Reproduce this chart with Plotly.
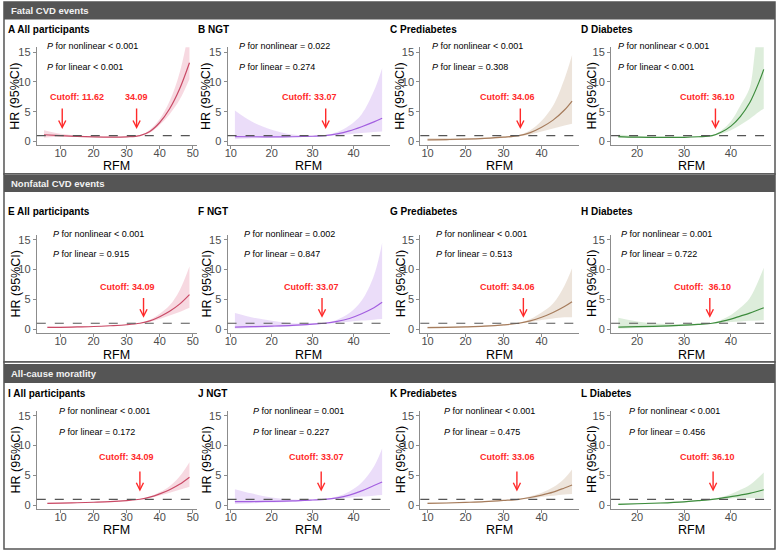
import plotly.graph_objects as go

W, H = 778, 552

# ---------------- data ----------------
# Fatal CVD events
rfm_A = [5, 10, 15, 20, 25, 30, 34, 37, 40, 43, 46, 49]
hr_A = [1.15, 1.0, 0.88, 0.8, 0.76, 0.8, 1.0, 1.7, 3.2, 5.5, 8.8, 13.2]
lo_A = [0.65, 0.8, 0.76, 0.72, 0.7, 0.74, 0.95, 1.5, 2.8, 4.6, 7.0, 10.5]
hi_A = [1.9, 1.3, 1.0, 0.9, 0.84, 0.87, 1.05, 2.0, 3.8, 6.8, 11.5, 19.0]

rfm_B = [11, 15, 20, 25, 30, 33, 36, 39, 42, 45, 47]
hr_B = [0.85, 0.82, 0.8, 0.82, 0.9, 1.0, 1.3, 1.8, 2.5, 3.3, 3.9]
lo_B = [0.4, 0.55, 0.65, 0.72, 0.82, 0.92, 1.05, 1.25, 1.45, 1.6, 1.7]
hi_B = [5.2, 3.4, 2.0, 1.2, 1.0, 1.08, 1.6, 2.7, 4.6, 8.5, 12.3]

rfm_C = [10, 15, 20, 25, 30, 34, 37, 40, 43, 46, 48]
hr_C = [0.3, 0.35, 0.42, 0.55, 0.75, 1.0, 1.5, 2.4, 3.6, 5.3, 6.8]
lo_C = [0.15, 0.2, 0.3, 0.42, 0.62, 0.9, 1.2, 1.7, 2.2, 2.7, 3.0]
hi_C = [0.6, 0.6, 0.6, 0.7, 0.9, 1.1, 1.9, 3.5, 6.0, 10.5, 14.5]

rfm_D = [16, 20, 25, 30, 33, 36, 38, 40, 42, 44, 46, 47]
hr_D = [0.85, 0.75, 0.7, 0.72, 0.82, 1.0, 1.6, 2.6, 4.2, 6.5, 10.0, 12.1]
lo_D = [0.6, 0.6, 0.6, 0.63, 0.72, 0.9, 1.3, 1.9, 2.8, 3.8, 5.0, 5.5]
hi_D = [1.2, 0.95, 0.82, 0.82, 0.92, 1.1, 1.9, 3.4, 6.0, 9.0, 18.0, 18.0]

# Nonfatal CVD events
rfm_E = [6, 10, 15, 20, 25, 30, 34, 37, 40, 43, 46, 49]
hr_E = [0.3, 0.32, 0.38, 0.45, 0.58, 0.75, 1.0, 1.4, 2.1, 3.0, 4.2, 5.8]
lo_E = [0.2, 0.24, 0.3, 0.38, 0.52, 0.7, 0.95, 1.25, 1.7, 2.3, 2.9, 3.6]
hi_E = [0.45, 0.42, 0.46, 0.52, 0.64, 0.8, 1.05, 1.6, 2.6, 4.0, 6.5, 10.5]

rfm_F = [11, 15, 20, 25, 30, 33, 36, 39, 42, 45, 47]
hr_F = [0.35, 0.42, 0.52, 0.65, 0.85, 1.0, 1.3, 1.8, 2.6, 3.6, 4.5]
lo_F = [0.1, 0.2, 0.33, 0.5, 0.75, 0.92, 1.05, 1.25, 1.45, 1.6, 1.7]
hi_F = [2.7, 2.0, 1.4, 1.0, 1.0, 1.08, 1.6, 2.7, 4.8, 9.0, 14.5]

rfm_G = [10, 15, 20, 25, 30, 34, 37, 40, 43, 46, 48]
hr_G = [0.25, 0.3, 0.38, 0.5, 0.72, 1.0, 1.4, 2.0, 2.8, 3.8, 4.6]
lo_G = [0.15, 0.2, 0.3, 0.42, 0.65, 0.92, 1.2, 1.55, 1.8, 2.0, 2.0]
hi_G = [0.45, 0.45, 0.48, 0.6, 0.8, 1.08, 1.7, 2.8, 4.3, 7.3, 10.2]

rfm_H = [16, 20, 25, 30, 33, 36, 38, 40, 42, 44, 47]
hr_H = [0.35, 0.42, 0.52, 0.68, 0.82, 1.0, 1.3, 1.7, 2.2, 2.7, 3.6]
lo_H = [0.1, 0.2, 0.35, 0.55, 0.72, 0.92, 1.05, 1.2, 1.3, 1.4, 1.5]
hi_H = [1.9, 1.3, 0.9, 0.85, 0.95, 1.1, 1.6, 2.4, 3.6, 5.2, 10.3]

# All-cause mortality
rfm_I = [6, 10, 15, 20, 25, 30, 34, 37, 40, 43, 46, 49]
hr_I = [0.3, 0.35, 0.42, 0.5, 0.6, 0.78, 1.0, 1.35, 1.9, 2.6, 3.5, 4.7]
lo_I = [0.2, 0.28, 0.36, 0.45, 0.56, 0.74, 0.96, 1.25, 1.65, 2.1, 2.6, 3.1]
hi_I = [0.42, 0.42, 0.48, 0.55, 0.65, 0.82, 1.04, 1.45, 2.2, 3.2, 4.8, 7.2]

rfm_J = [11, 15, 20, 25, 30, 33, 36, 39, 42, 45, 47]
hr_J = [0.6, 0.62, 0.65, 0.72, 0.88, 1.0, 1.25, 1.7, 2.4, 3.3, 3.9]
lo_J = [0.2, 0.32, 0.45, 0.6, 0.8, 0.93, 1.08, 1.25, 1.45, 1.6, 1.7]
hi_J = [2.7, 2.0, 1.3, 0.95, 0.98, 1.07, 1.45, 2.3, 3.8, 6.5, 9.5]

rfm_K = [10, 15, 20, 25, 30, 34, 37, 40, 43, 46, 48]
hr_K = [0.3, 0.38, 0.48, 0.6, 0.8, 1.0, 1.3, 1.7, 2.2, 2.9, 3.4]
lo_K = [0.2, 0.3, 0.4, 0.55, 0.75, 0.95, 1.15, 1.4, 1.6, 1.8, 1.9]
hi_K = [0.45, 0.48, 0.56, 0.66, 0.86, 1.06, 1.5, 2.1, 3.0, 4.5, 6.0]

rfm_L = [16, 20, 25, 30, 33, 36, 38, 40, 42, 44, 47]
hr_L = [0.15, 0.25, 0.38, 0.58, 0.78, 1.0, 1.2, 1.45, 1.7, 2.0, 2.6]
lo_L = [0.05, 0.15, 0.3, 0.5, 0.7, 0.92, 1.05, 1.15, 1.2, 1.2, 1.2]
hi_L = [0.35, 0.38, 0.48, 0.66, 0.86, 1.08, 1.4, 1.9, 2.6, 3.4, 5.5]

section_titles = ["Fatal CVD events", "Nonfatal CVD events", "All-cause moratlity"]
panel_titles = ["A All participants", "B NGT", "C Prediabetes", "D Diabetes",
                "E All participants", "F NGT", "G Prediabetes", "H Diabetes",
                "I All participants", "J NGT", "K Prediabetes", "L Diabetes"]
p_nonlinear = ["< 0.001", "= 0.022", "< 0.001", "< 0.001",
               "< 0.001", "= 0.002", "< 0.001", "= 0.001",
               "< 0.001", "= 0.001", "< 0.001", "< 0.001"]
p_linear = ["< 0.001", "= 0.274", "= 0.308", "< 0.001",
            "= 0.915", "= 0.847", "= 0.513", "= 0.722",
            "= 0.172", "= 0.227", "= 0.475", "= 0.456"]
# cutoff labels and the RFM where each arrow points
cutoff_labels = [["Cutoff: 11.62", "34.09"], ["Cutoff: 33.07"], ["Cutoff: 34.06"], ["Cutoff: 36.10"],
                 ["Cutoff: 34.09"], ["Cutoff: 33.07"], ["Cutoff: 34.06"], ["Cutoff:&nbsp; 36.10"],
                 ["Cutoff: 34.09"], ["Cutoff: 33.07"], ["Cutoff: 33.06"], ["Cutoff: 36.10"]]
cutoff_rfm = [[10.5, 33.0], [33.2], [34.4], [36.7],
              [35.1], [32.3], [35.2], [35.5],
              [34.0], [32.1], [33.5], [36.2]]

x_ticks = [[10, 20, 30, 40, 50], [10, 20, 30, 40], [10, 20, 30, 40], [20, 30, 40]]
y_ticks = [0, 5, 10, 15]

series = [
    (rfm_A, hr_A, lo_A, hi_A), (rfm_B, hr_B, lo_B, hi_B), (rfm_C, hr_C, lo_C, hi_C), (rfm_D, hr_D, lo_D, hi_D),
    (rfm_E, hr_E, lo_E, hi_E), (rfm_F, hr_F, lo_F, hi_F), (rfm_G, hr_G, lo_G, hi_G), (rfm_H, hr_H, lo_H, hi_H),
    (rfm_I, hr_I, lo_I, hi_I), (rfm_J, hr_J, lo_J, hi_J), (rfm_K, hr_K, lo_K, hi_K), (rfm_L, hr_L, lo_L, hi_L),
]

# ---------------- styling / layout ----------------
FONT = "Liberation Sans, Arial, Helvetica, sans-serif"
line_cols = ["#c94a66", "#a35fe0", "#a67c5c", "#3d8c3d"]
fill_cols = ["rgba(236,160,180,0.40)", "rgba(205,170,240,0.40)", "rgba(215,195,175,0.45)", "rgba(180,215,175,0.45)"]

col_px = [(34, 195), (226, 389), (420, 580), (612, 773)]
row_px = [(46.5, 145.0), (235.2, 333.6), (412.2, 510.6)]
x_ranges = [(2.8, 51.2), (9.2, 48.8), (8.1, 49.9), (14.45, 48.55)]
y_range = (-0.6, 15.8)

title_x = [7, 198, 392, 584]
ytitle_x = [12.7, 205, 400, 593]
xtitle_y = [166, 356, 532]
title_y = [29, 212, 395]
p_x = [[6.4, 12.5, 11.6, 16.3], [8.2, 13.8, 12.7, 17.1], [10.1, 15.8, 14.9, 18.6]]
p_ypx = [(45.7, 66.7), (234.3, 254.3), (412.7, 433.3)]
cut_text_y = [7.5, 7.05, 8.1]
arrow_top = [5.8, 5.5, 5.9]
arrow_tip = [2.1, 1.9, 2.3]
cut_text_x = [[15.1, 32.9], [29.3], [30.9], [35.1],
              [30.3], [29.8], [30.9], [33.9],
              [29.8], [31.0], [30.9], [35.1]]

sec_px = [(1, 174), (174, 363), (363, 551)]
hdr_px = [(1, 18.5), (175, 192), (365, 384)]
LSHIFT = -4  # compensates annotation box padding for left-anchored texts


def px(xp):
    return xp / W


def py(yp):
    return 1 - yp / H


fig = go.Figure()
layout = dict(width=W, height=H, margin=dict(l=0, r=0, t=0, b=0),
              paper_bgcolor="white", plot_bgcolor="white", showlegend=False,
              font=dict(family=FONT))
shapes = []
annotations = []

# sections
for s in range(3):
    y0, y1 = sec_px[s]
    shapes.append(dict(type="rect", xref="paper", yref="paper", x0=px(1), x1=px(777),
                       y0=py(y1), y1=py(y0), line=dict(color="#555555", width=1.5),
                       fillcolor="white", layer="below"))
    h0, h1 = hdr_px[s]
    shapes.append(dict(type="rect", xref="paper", yref="paper", x0=px(1), x1=px(777),
                       y0=py(h1), y1=py(h0), line=dict(width=0), fillcolor="#555555", layer="below"))
    annotations.append(dict(text="<b>" + section_titles[s] + "</b>", xref="paper", yref="paper",
                            x=px(10), y=py((h0 + h1) / 2), xanchor="left", yanchor="middle",
                            xshift=LSHIFT, showarrow=False,
                            font=dict(size=9.5, color="#f2f2f2", family=FONT)))

for i in range(12):
    r, c = divmod(i, 4)
    n = "" if i == 0 else str(i + 1)
    xa, ya = "x" + n, "y" + n
    rfm, hr, lo, hi = series[i]
    x0p, x1p = col_px[c]
    top, bot = row_px[r]
    layout["xaxis" + n] = dict(domain=[px(x0p), px(x1p)], anchor=ya, range=list(x_ranges[c]),
                               tickvals=x_ticks[c], showgrid=False, zeroline=False, showline=True,
                               linecolor="#8c8c8c", linewidth=1, ticks="outside", ticklen=3,
                               tickcolor="#8c8c8c", tickfont=dict(size=11, color="#4d4d4d", family=FONT),
                               ticklabelstandoff=-5, fixedrange=True)
    layout["yaxis" + n] = dict(domain=[py(bot), py(top)], anchor=xa, range=list(y_range),
                               tickvals=y_ticks, showgrid=False, zeroline=False, showline=True,
                               linecolor="#8c8c8c", linewidth=1, ticks="outside", ticklen=3,
                               tickcolor="#8c8c8c", tickfont=dict(size=11, color="#4d4d4d", family=FONT),
                               fixedrange=True)
    # ribbon
    fig.add_trace(go.Scatter(x=rfm, y=hi, mode="lines", line=dict(width=0, shape="spline"),
                             xaxis=xa, yaxis=ya, hoverinfo="skip"))
    fig.add_trace(go.Scatter(x=rfm, y=lo, mode="lines", line=dict(width=0, shape="spline"),
                             fill="tonexty", fillcolor=fill_cols[c], xaxis=xa, yaxis=ya, hoverinfo="skip"))
    fig.add_trace(go.Scatter(x=rfm, y=hr, mode="lines", line=dict(width=1.2, color=line_cols[c], shape="spline"),
                             xaxis=xa, yaxis=ya))
    # reference line HR = 1
    shapes.append(dict(type="line", xref=xa + " domain", yref=ya, x0=0, x1=1, y0=1, y1=1,
                       line=dict(color="#555555", width=1.2, dash="dash")))
    # panel title
    annotations.append(dict(text="<b>" + panel_titles[i] + "</b>", xref="paper", yref="paper",
                            x=px(title_x[c]), y=py(title_y[r]), xanchor="left", yanchor="middle",
                            xshift=LSHIFT, showarrow=False, font=dict(size=10, color="black", family=FONT)))
    # axis titles
    annotations.append(dict(text="HR (95%CI)", xref="paper", yref="paper", textangle=-90,
                            x=px(ytitle_x[c]), y=py((top + bot) / 2), xanchor="center", yanchor="middle",
                            showarrow=False, font=dict(size=12.5, color="black", family=FONT)))
    annotations.append(dict(text="RFM", xref="paper", yref="paper",
                            x=px((x0p + x1p) / 2), y=py(xtitle_y[r]), xanchor="center", yanchor="middle",
                            showarrow=False, font=dict(size=12.5, color="black", family=FONT)))
    # P values
    annotations.append(dict(text="<i>P</i> for nonlinear " + p_nonlinear[i].replace("<", "&lt;"),
                            xref=xa, yref="paper", x=p_x[r][c], y=py(p_ypx[r][0]), xanchor="left",
                            yanchor="middle", xshift=LSHIFT, showarrow=False,
                            font=dict(size=9, color="black", family=FONT)))
    annotations.append(dict(text="<i>P</i> for linear " + p_linear[i].replace("<", "&lt;"),
                            xref=xa, yref="paper", x=p_x[r][c], y=py(p_ypx[r][1]), xanchor="left",
                            yanchor="middle", xshift=LSHIFT, showarrow=False,
                            font=dict(size=9, color="black", family=FONT)))
    # cutoffs
    for k, lab in enumerate(cutoff_labels[i]):
        annotations.append(dict(text="<b>" + lab + "</b>", xref=xa, yref=ya, x=cut_text_x[i][k],
                                y=cut_text_y[r], xanchor="center", yanchor="middle", showarrow=False,
                                font=dict(size=9, color="#ff2a2a", family=FONT)))
        annotations.append(dict(text="", xref=xa, yref=ya, x=cutoff_rfm[i][k], y=arrow_tip[r],
                                axref=xa, ayref=ya, ax=cutoff_rfm[i][k], ay=arrow_top[r],
                                showarrow=True, arrowhead=5, arrowsize=1, arrowwidth=1.4,
                                arrowcolor="#ff2a2a", standoff=0, startstandoff=0))

layout["shapes"] = shapes
layout["annotations"] = annotations
fig.update_layout(**layout)
fig.write_html("out.html", config={"displayModeBar": False},
               post_script="document.body.style.margin='0';document.body.style.overflow='hidden';")
